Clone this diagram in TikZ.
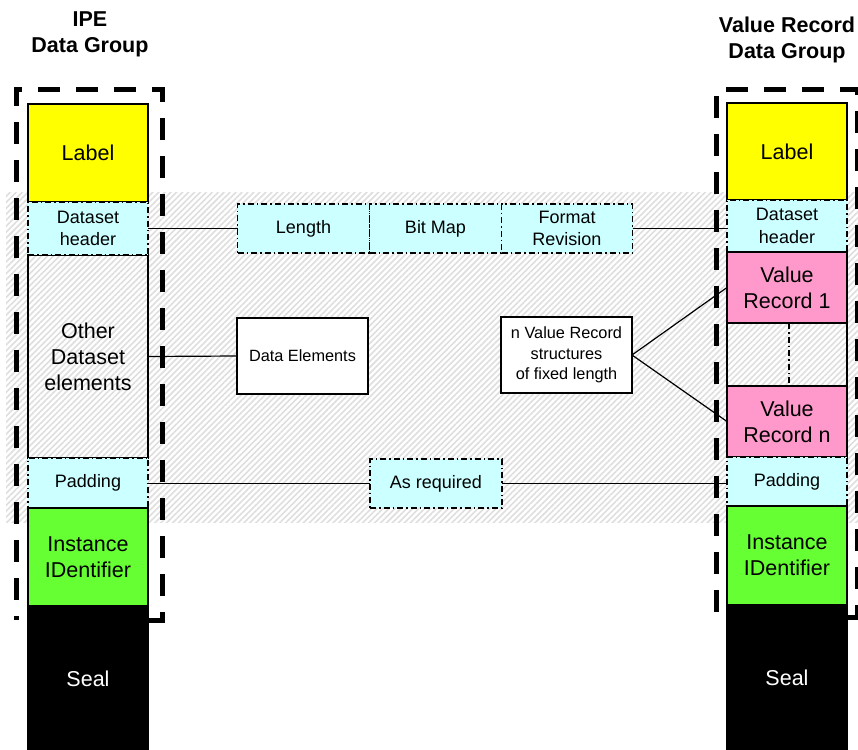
\documentclass[tikz,border=0pt]{standalone}
\usepackage{fontspec}
\setmainfont{Liberation Sans}
\usepackage{tikz}
\usetikzlibrary{calc,positioning,patterns.meta}
\usepackage{xcolor}
\definecolor{lblyellow}{HTML}{FFFF00}
\definecolor{hdrcyan}{HTML}{CCFFFF}
\definecolor{idgreen}{HTML}{66FF33}
\definecolor{recpink}{HTML}{FF99CC}
\newcommand{\bigfnt}{\fontsize{21.5}{26}\selectfont}
\newcommand{\midfnt}{\fontsize{18}{22.5}\selectfont}
\newcommand{\smlfnt}{\fontsize{16.3}{20.5}\selectfont}
\newcommand{\colfield}[5]{\node[#1, minimum height=#4pt] (#2) at (#3) {#5};}
\tikzset{
  field/.style={draw, line width=1.2pt, minimum width=120pt, inner sep=0pt, outer sep=0pt, align=center, font=\bigfnt},
  hdrfield/.style={field, fill=hdrcyan, dash pattern=on 6pt off 3pt on 1.5pt off 3pt, font=\midfnt},
  midbox/.style={draw, line width=1.2pt, fill=hdrcyan, dash pattern=on 6pt off 3pt on 1.5pt off 3pt, minimum width=132pt, minimum height=49pt, inner sep=0pt, outer sep=0pt, align=center, font=\midfnt},
  infobox/.style={draw, line width=1.2pt, fill=white, minimum width=131pt, minimum height=76pt, inner sep=0pt, outer sep=0pt, align=center, font=\smlfnt},
  grouptitle/.style={align=center, font=\bigfnt\bfseries},
  groupframe/.style={line width=5pt, dash pattern=on 22pt off 16pt},
  link/.style={line width=1.2pt}
}

\begin{document}
\begin{tikzpicture}[x=1pt,y=-1pt]

    \useasboundingbox (0,0) rectangle (858,749);

    % hatched band
    \fill[pattern={Lines[angle=45,distance=4.2pt,line width=1.6pt]}, pattern color=black!13] (6,192) rectangle (858,522);

    % titles
    \node[grouptitle] (ipetitle) at (90,34) {IPE\\Data Group};
    \node[grouptitle] (vrtitle) at (787,40) {Value Record\\Data Group};

    % group frames
    \draw[groupframe] (148,620) -- (162,620) -- (162,90) -- (16,90) -- (16,620);
    \draw[groupframe] (847,617) -- (857,617) -- (857,90) -- (716,90) -- (716,617);

    % IPE data group
    \colfield{field, fill=lblyellow}{lLabel}{88,153}{98}{Label}
    \colfield{field}{lOther}{88,356.5}{203}{Other\\Dataset\\elements}
    \colfield{hdrfield}{lHead}{88,228.5}{53}{Dataset\\header}
    \colfield{hdrfield}{lPad}{88,483}{50}{Padding}
    \colfield{field, fill=idgreen}{lInst}{88,557}{98}{Instance\\IDentifier}
    \colfield{field, fill=black, text=white}{lSeal}{88,679}{146}{Seal}

    % Value Record data group
    \colfield{field, fill=lblyellow}{rLabel}{787,151.5}{97}{Label}
    \colfield{hdrfield}{rHead}{787,226}{52}{Dataset\\header}
    \colfield{field, fill=recpink}{rRecOne}{787,287.5}{71}{Value\\Record 1}
    \colfield{field, fill=recpink}{rRecN}{787,421.5}{71}{Value\\Record n}
    \colfield{hdrfield}{rPad}{787,481.5}{49}{Padding}
    \colfield{field, fill=idgreen}{rInst}{787,555.5}{99}{Instance\\IDentifier}
    \colfield{field, fill=black, text=white}{rSeal}{787,677.5}{145}{Seal}

    \draw[link] (rRecOne.south west) -- (rRecN.north west);
    \draw[link] (rRecOne.south east) -- (rRecN.north east);
    \draw[link, dash pattern=on 6pt off 3pt on 1.5pt off 3pt] ($(rRecOne.south)+(2,0)$) -- ($(rRecN.north)+(2,0)$);

    % dataset header fields
    \node[midbox] (recLen) at (303.5,228.5) {Length};
    \node[midbox, right=0pt of recLen] (bitMap) {Bit Map};
    \node[midbox, right=0pt of bitMap, minimum width=131pt] (fmtRev) {Format\\Revision};

    \node[infobox] (dataElem) at (302.5,356) {Data Elements};
    \node[infobox] (nRec) at (566.5,355) {n Value Record\\structures\\of fixed length};
    \node[midbox] (asReq) at (436,483.5) {As required};

    % connectors
    \draw[link] (lHead.east) -- (recLen.west);
    \draw[link] (fmtRev.east) -- (fmtRev.east -| rHead.west);
    \draw[link] (lOther.east) -- (dataElem.west);
    \draw[link] (nRec.east) -- (rRecOne.west);
    \draw[link] (nRec.east) -- (rRecN.west);
    \draw[link] (asReq.west -| lPad.east) -- (asReq.west);
    \draw[link] (asReq.east) -- (asReq.east -| rPad.west);

\end{tikzpicture}
\end{document}
